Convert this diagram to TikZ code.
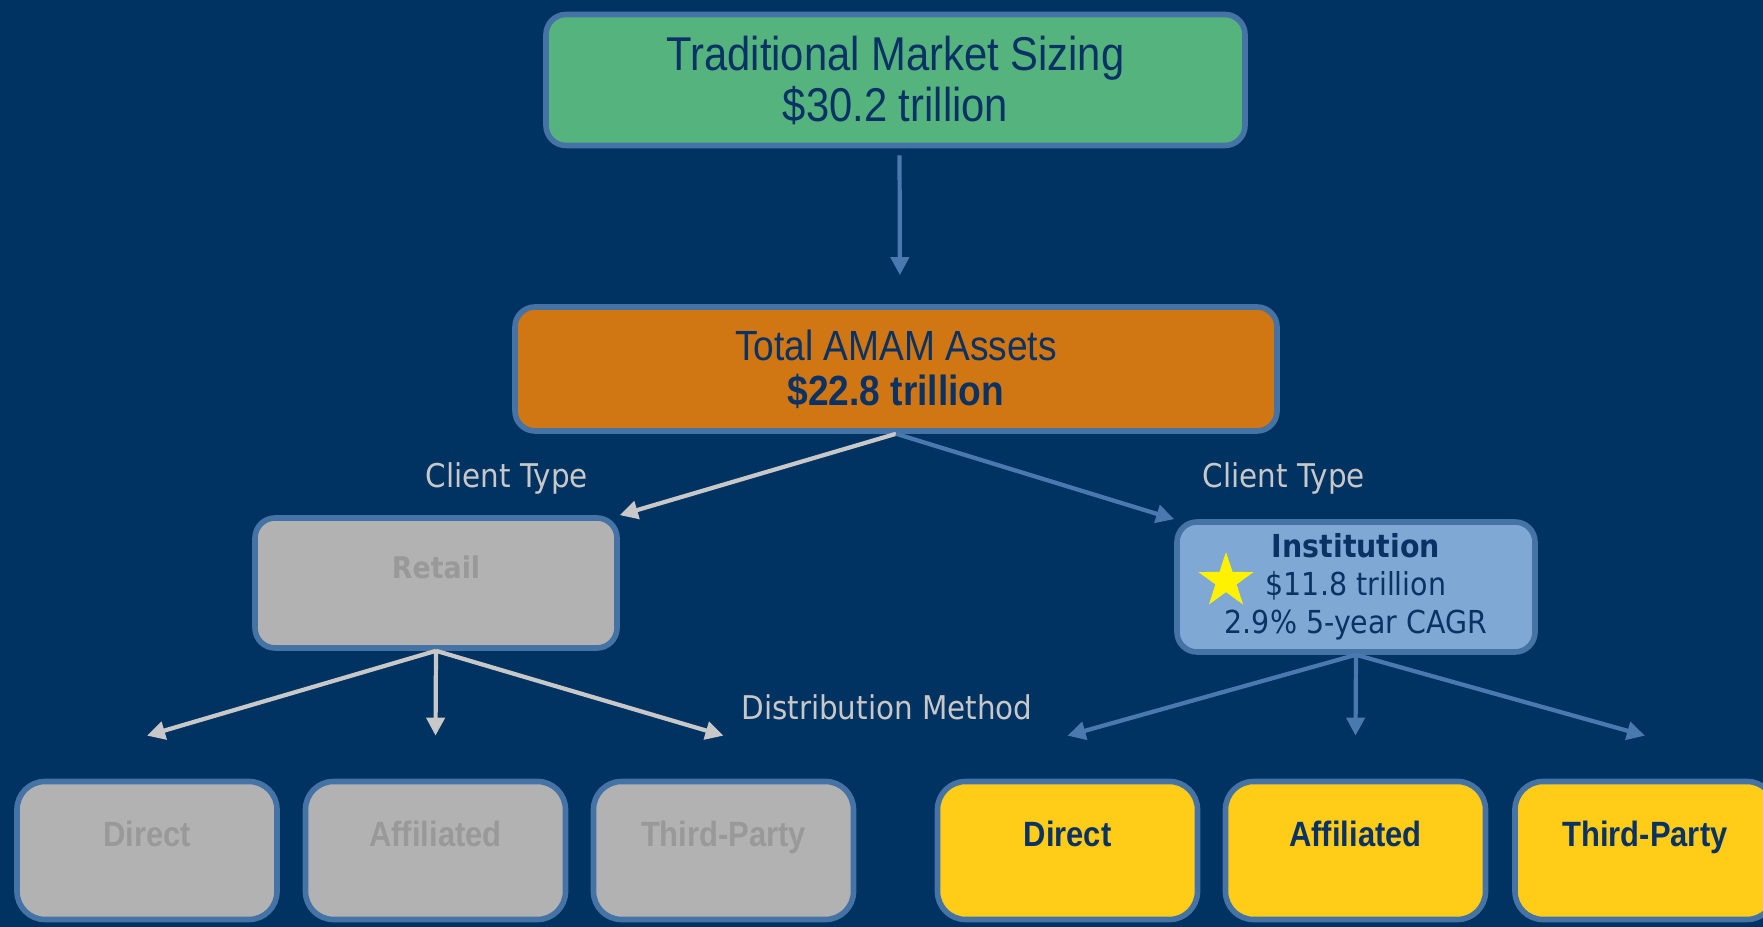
\documentclass[tikz,border=0pt]{standalone}
\usepackage{fontspec}
\setmainfont[FakeStretch=0.9]{DejaVu Sans}
\newfontfamily\condfont[FakeStretch=0.88]{Liberation Sans}
\usepackage{xcolor}
\definecolor{navybg}{RGB}{0,50,98}
\definecolor{navytext}{RGB}{10,50,100}
\definecolor{boxline}{RGB}{69,115,165}
\definecolor{greenfill}{RGB}{85,179,126}
\definecolor{orangefill}{RGB}{208,118,18}
\definecolor{grayfill}{RGB}{178,178,178}
\definecolor{graytext}{RGB}{153,153,153}
\definecolor{bluefill}{RGB}{127,168,212}
\definecolor{yellowfill}{RGB}{255,204,24}
\definecolor{labelgray}{RGB}{200,200,200}
\definecolor{linkblue}{RGB}{74,121,176}
\usepackage{tikz}
\usetikzlibrary{
    shapes.geometric,
    arrows.meta,
    positioning
}

\begin{document}
\begin{tikzpicture}[
        box/.style={rectangle, rounded corners=2mm, draw=boxline, line width=1.6pt, align=center, text=navytext},
        leaf/.style={box, rounded corners=2.8mm, minimum width=2.6cm, inner ysep=0.1cm, text height=0.55cm, text depth=0.63cm, font=\condfont\bfseries\fontsize{10}{12}\selectfont},
        tag/.style={text=labelgray, font=\fontsize{9.3}{11}\selectfont},
        bluearrow/.style={-{Triangle[length=1.8mm, width=1.8mm]}, line width=1.2pt, linkblue},
        grayarrow/.style={-{Triangle[length=1.8mm, width=1.8mm]}, line width=1.2pt, labelgray}
    ]
        \fill[navybg] (0,0) rectangle (17.63,9.27);
        \useasboundingbox (0,0) rectangle (17.63,9.27);

        \node[box, fill=greenfill, minimum width=6.99cm, minimum height=1.31cm, font=\condfont\fontsize{13.5}{14.5}\selectfont] (market) at (8.955,8.47) {Traditional Market Sizing\\\$30.2 trillion};
        \node[box, fill=orangefill, minimum width=7.62cm, minimum height=1.24cm, font=\condfont\fontsize{12}{12.8}\selectfont] (amam) at (8.96,5.58) {Total AMAM Assets\\\textbf{\$22.8 trillion}};

        \node[box, fill=grayfill, text=graytext, minimum width=3.62cm, inner ysep=0.1cm, text height=0.51cm, text depth=0.59cm, font=\bfseries\fontsize{8.5}{11}\selectfont] (retail) at (4.36,3.44) {Retail};
        \node[box, fill=bluefill, minimum width=3.58cm, minimum height=1.30cm, font=\fontsize{9}{10.8}\selectfont] (inst) at (13.56,3.40) {\textbf{Institution}\\\$11.8 trillion\\2.9\% 5-year CAGR};
        \node[star, star points=5, star point ratio=2.6, fill=yellow, inner sep=0pt, minimum size=0.58cm] (star) at (12.26,3.46) {};

        \node[tag] (typeleft) at (5.07,4.49) {Client Type};
        \node[tag] (typeright) at (12.84,4.49) {Client Type};
        \node[tag] (method) at (8.87,2.20) {Distribution Method};

        \foreach \nm/\x/\txt in {rdirect/1.47/Direct, raffil/4.355/Affiliated, rthird/7.235/Third-Party} {
            \node[leaf, fill=grayfill, text=graytext] (\nm) at (\x,0.765) {\txt};
            \draw[grayarrow] (retail.south) -- ([yshift=4.3mm]\nm.north);
        }
        \foreach \nm/\x/\txt in {idirect/10.675/Direct, iaffil/13.555/Affiliated, ithird/16.45/Third-Party} {
            \node[leaf, fill=yellowfill] (\nm) at (\x,0.765) {\txt};
            \draw[bluearrow] (inst.south) -- ([yshift=4.3mm]\nm.north);
        }

        \draw[bluearrow, shorten <=0.7mm, shorten >=2.9mm] ([xshift=0.4mm]market.south) -- ([xshift=0.4mm]amam.north);
        \draw[grayarrow] (amam.south) -- (retail.north east);
        \draw[bluearrow] (amam.south) -- (inst.north west);
    \end{tikzpicture}
\end{document}
